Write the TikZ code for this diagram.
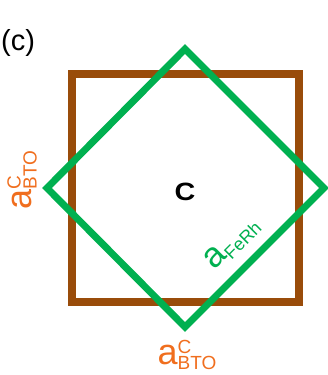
\documentclass[tikz,border=0pt]{standalone}
\usepackage{fontspec}
\setmainfont{Liberation Sans}
\definecolor{btobrown}{RGB}{153,76,10}
\definecolor{ferhgreen}{RGB}{0,176,80}
\definecolor{btoorange}{RGB}{240,110,30}
\newcommand\latpar[2]{{\fontsize{36}{36}\selectfont a}\rlap{\raisebox{11pt}{\fontsize{19}{19}\selectfont #1}}\raisebox{-5pt}{\fontsize{19}{19}\selectfont #2}}
\tikzset{
  cell/.style={line width=#1,line join=miter},
  lbl/.style={inner sep=0pt,outer sep=0pt}
}
\begin{document}
\begin{tikzpicture}[x=1pt,y=-1pt]
\useasboundingbox (0,0) rectangle (327,375);
% BTO cell
\draw[cell=8pt,btobrown] (72,73.5) rectangle (299,301.5);
% FeRh cell, rotated by 45 degrees
\draw[cell=7pt,ferhgreen] (185,49) -- (324,188) -- (185,327) -- (47,188) -- cycle;
\node[lbl] (panel) at (18,43) {\fontsize{29}{29}\selectfont (c)};
\node[lbl,xscale=1.15] (axis) at (185,192) {\fontsize{25}{25}\selectfont\bfseries C};
\node[lbl,btoorange,rotate=90] (btoleft) at (22,180) {\latpar{C}{BTO}};
\node[lbl,btoorange] (btobottom) at (187,355) {\latpar{C}{BTO}};
\node[lbl,ferhgreen,rotate=45] (ferh) at (232,243) {{\fontsize{35}{35}\selectfont a}\raisebox{-5pt}{\fontsize{18}{18}\selectfont FeRh}};
\end{tikzpicture}
\end{document}
